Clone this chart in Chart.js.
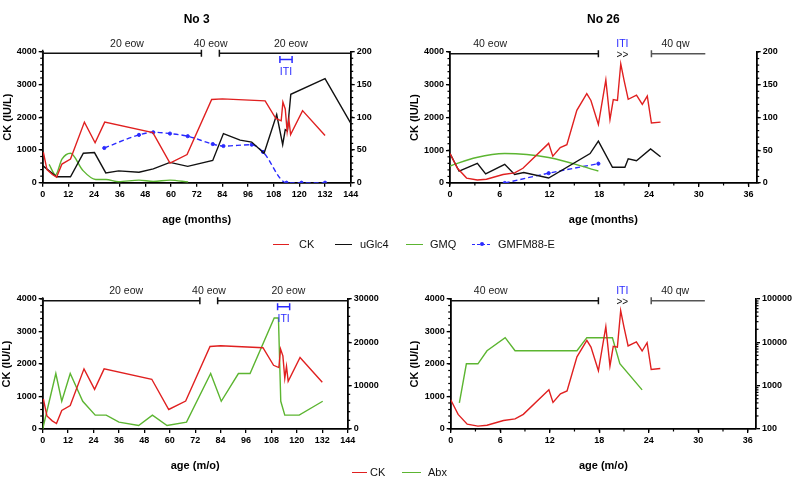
<!DOCTYPE html>
<html>
<head>
<meta charset="utf-8">
<script src="https://cdn.jsdelivr.net/npm/chart.js@4.4.1/dist/chart.umd.min.js"></script>
<style>
  html, body { margin: 0; padding: 0; background: #fff; }
  body { width: 794px; height: 479px; position: relative; overflow: hidden; font-family: "Liberation Sans", Arial, sans-serif; }
  .panel { position: absolute; }
  .item { position: absolute; font-size: 11px; line-height: 12px; color: #111; white-space: nowrap; }
  .sw { position: absolute; top: 6px; height: 0; border-top: 1.5px solid; }
  .dot { position: absolute; top: 4px; width: 4px; height: 4px; border-radius: 2px; background: #2a2aff; }
</style>
</head>
<body>
<div class="panel" style="left:0;top:0"><canvas id="c1" width="400" height="232"></canvas></div>
<div class="panel" style="left:400px;top:0"><canvas id="c2" width="394" height="232"></canvas></div>
<div class="panel" style="left:0;top:240px"><canvas id="c3" width="400" height="239"></canvas></div>
<div class="panel" style="left:400px;top:240px"><canvas id="c4" width="394" height="239"></canvas></div>

<!-- legend, top -->
<div class="item" style="left:273px;top:238px"><span class="sw" style="left:0;width:16px;border-color:#e02020"></span><span style="margin-left:26px">CK</span></div>
<div class="item" style="left:335px;top:238px"><span class="sw" style="left:0;width:17px;border-color:#111"></span><span style="margin-left:25px">uGlc4</span></div>
<div class="item" style="left:406px;top:238px"><span class="sw" style="left:0;width:17px;border-color:#5cb531"></span><span style="margin-left:24px">GMQ</span></div>
<div class="item" style="left:472px;top:238px"><span class="sw" style="left:0;width:18px;border-top:1.5px dashed #2a2aff"></span><span class="dot" style="left:8px"></span><span style="margin-left:26px">GMFM88-E</span></div>
<!-- legend, bottom -->
<div class="item" style="left:352px;top:466px"><span class="sw" style="left:0;width:15px;border-color:#e02020"></span><span style="margin-left:18px">CK</span></div>
<div class="item" style="left:402px;top:466px"><span class="sw" style="left:0;width:19px;border-color:#5cb531"></span><span style="margin-left:26px">Abx</span></div>

<script>
const FONT = '"Liberation Sans", Arial, sans-serif';

// ---- No 3 (age in months) ----
const ckAge3 = [0.3, 2, 4.5, 6.5, 9, 13, 19.5, 24.5, 29, 51.5, 59.5, 67.5, 79, 84, 104, 109, 111.5, 112.3, 113.4, 114.3, 115.1, 115.9, 121.5, 132];
const ck3 = [930, 400, 250, 170, 570, 720, 1850, 1220, 1850, 1530, 600, 860, 2540, 2560, 2500, 1960, 1890, 2460, 2250, 1560, 1930, 1470, 2200, 1440];
const ugAge3 = [0, 6.5, 13, 19, 24.2, 29.5, 35.5, 45, 51.7, 59.5, 67.8, 79.5, 84.5, 92.3, 97.7, 103.5, 109.4, 112.2, 113.4, 114.4, 116, 132, 144];
const ug3 = [26, 9, 9, 45, 46, 15, 18, 16, 21, 31, 25, 34, 75, 65, 62, 45, 104, 58, 81, 79, 135, 159, 91];
const gmqAge3 = [3, 6, 9, 13, 18.7, 24.8, 29.6, 35.5, 45, 51.7, 59.5, 68];
const gmq3 = [28, 12, 36, 45, 19, 5, 5, 1.5, 4, 2, 4, 1];
const gmfmAge3 = [28.8, 45, 51.7, 59.5, 67.8, 79.5, 84.5, 97.7, 103, 114, 121, 132];
const gmfm3 = [53, 73, 77, 75, 71, 59, 56, 58, 47, 0, 0, 0];
const abxAge3 = [0, 6.2, 9, 13, 18.9, 24.8, 30, 36, 45.3, 51.8, 58.7, 67.9, 79.3, 84.3, 92.4, 97.9, 109.3, 111.3, 112.4, 114.3, 121.1, 132.2];
const abx3 = [0, 12800, 6400, 12800, 6400, 3200, 3200, 1600, 800, 3200, 800, 1600, 12800, 6400, 12800, 12800, 25600, 25600, 6400, 3200, 3200, 6400];

// ---- No 26 ----
const ckAge26 = [0, 0.9, 2, 3.3, 4.4, 6.4, 7.8, 8.8, 11.9, 12.4, 13.3, 14.1, 15.3, 16.5, 17, 17.9, 18.8, 19.3, 19.7, 20.2, 20.6, 21, 21.5, 22.5, 23.2, 23.8, 24.3, 25.4];
const ck26 = [900, 450, 150, 90, 115, 260, 310, 450, 1210, 820, 1080, 1170, 2220, 2730, 2520, 1790, 3150, 1940, 2545, 2520, 3640, 3135, 2555, 2680, 2400, 2655, 1830, 1860];
const ugAge26 = [0, 1.1, 3.3, 4.3, 6.6, 7.8, 8.9, 11.9, 16.9, 17.9, 19.6, 21.1, 21.5, 22.5, 24.2, 25.4];
const ug26 = [45, 18, 30, 14, 28.5, 13, 16, 7.6, 45, 64, 24, 24, 37, 34, 52, 40];
const gmqAge26 = [0, 3.2, 6.6, 11.9, 17.9];
const gmq26 = [26, 39, 45, 39, 18.3];
const gmfmAge26 = [6.6, 11.9, 17.9];
const gmfm26 = [0, 15, 29.5];
const abxAge26 = [1.05, 1.9, 3.3, 4.4, 6.6, 7.8, 15.3, 16.5, 19.6, 20.5, 23.2];
const abx26 = [400, 3200, 3200, 6400, 12800, 6400, 6400, 12800, 12800, 3200, 800];

// axis ticks
const xTicks3 = [0, 12, 24, 36, 48, 60, 72, 84, 96, 108, 120, 132, 144];
const xTicks26 = [0, 6, 12, 18, 24, 30, 36];
const ckTicks = [0, 1000, 2000, 3000, 4000];
const rightTicks = [0, 50, 100, 150, 200];
const abxTicks3 = [0, 10000, 20000, 30000];
const abxTicks26 = [100, 1000, 10000, 100000];

// dosing bars / ITI (ages)
const dose3 = [
  { from: 0, to: 74.2, caps: [true, true] },
  { from: 82.6, to: 144, caps: [true, false] }
];
const doseLabels3 = [['20 eow', 39.4], ['40 eow', 78.5], ['20 eow', 116]];
const iti3 = [110.9, 116.6];
const dose26 = [
  { from: 0, to: 17.9, caps: [false, true] },
  { from: 24.3, to: 30.8, caps: [true, false], color: '#555' }
];
const doseLabels26 = [['40 eow', 4.85], ['40 qw', 27.2]];

const pts = (xs, ys) => xs.map((x, i) => ({ x, y: ys[i] }));

const RED = '#e02020', BLACK = '#111', GREEN = '#5cb531', BLUE = '#2a2aff';

const marks = {
  id: 'marks',
  afterDraw(chart, args, o) {
    const { ctx, chartArea: a, scales } = chart;
    const x = scales.x, y = scales.y;
    ctx.save();
    // minor ticks
    ctx.strokeStyle = '#000';
    ctx.lineWidth = 1.2;
    const minor = o.minor || {};
    Object.keys(minor).forEach(id => {
      const s = scales[id];
      let vals = [];
      if (minor[id] === 'log') {
        for (let d = s.min; d < s.max; d *= 10) for (let k = 2; k <= 9; k++) vals.push(k * d);
      } else {
        for (let v = s.min; v <= s.max + 1e-9; v += minor[id]) vals.push(v);
      }
      vals.forEach(v => {
        const p = s.getPixelForValue(v);
        ctx.beginPath();
        if (id === 'x') { if (v > 36.01 && s.max < 40) return; ctx.moveTo(p, a.bottom); ctx.lineTo(p, a.bottom + 2.5); }
        else if (s.position === 'left') { ctx.moveTo(a.left, p); ctx.lineTo(a.left - 2.5, p); }
        else { ctx.moveTo(a.right, p); ctx.lineTo(a.right + 2.5, p); }
        ctx.stroke();
      });
    });
    ctx.textAlign = 'center';
    ctx.textBaseline = 'middle';
    if (o.title) {
      ctx.fillStyle = '#000';
      ctx.font = 'bold 12px ' + FONT;
      ctx.fillText(o.title, (a.left + a.right) / 2, 20);
    }
    // dosing bars
    const by = y.getPixelForValue(3950);
    ctx.lineWidth = 1.5;
    o.bars.forEach(b => {
      const x0 = x.getPixelForValue(b.from), x1 = x.getPixelForValue(b.to);
      ctx.strokeStyle = b.color || '#111';
      ctx.beginPath();
      ctx.moveTo(x0, by); ctx.lineTo(x1, by);
      if (b.caps[0]) { ctx.moveTo(x0, by - 3.5); ctx.lineTo(x0, by + 3.5); }
      if (b.caps[1]) { ctx.moveTo(x1, by - 3.5); ctx.lineTo(x1, by + 3.5); }
      ctx.stroke();
    });
    ctx.font = '10.5px ' + FONT;
    ctx.fillStyle = '#222';
    o.labels.forEach(([t, v]) => ctx.fillText(t, x.getPixelForValue(v), by - 9.5));
    if (o.iti) {
      const i0 = x.getPixelForValue(o.iti[0]), i1 = x.getPixelForValue(o.iti[1]);
      const iy = y.getPixelForValue(3760);
      ctx.strokeStyle = BLUE;
      ctx.beginPath();
      ctx.moveTo(i0, iy); ctx.lineTo(i1, iy);
      ctx.moveTo(i0, iy - 3.5); ctx.lineTo(i0, iy + 3.5);
      ctx.moveTo(i1, iy - 3.5); ctx.lineTo(i1, iy + 3.5);
      ctx.stroke();
      ctx.fillStyle = BLUE;
      ctx.fillText('ITI', (i0 + i1) / 2, y.getPixelForValue(3380));
    }
    if (o.itiText) {
      const px = x.getPixelForValue(o.itiText);
      ctx.fillStyle = BLUE;
      ctx.fillText('ITI', px, by - 9.5);
      ctx.fillStyle = '#111';
      ctx.font = '10px ' + FONT;
      ctx.fillText('>>', px, by + 2);
    }
    ctx.restore();
  }
};

const tickFont = { family: FONT, size: 9, weight: 'bold' };
const titleFont = { family: FONT, size: 11, weight: 'bold' };
const axisGrid = { display: true, drawOnChartArea: false, drawTicks: true, tickLength: 4, color: '#000', lineWidth: 1.3 };
const axisBorder = { display: true, color: '#000', width: 1.8 };
const fixed = list => s => { s.ticks = list.map(v => ({ value: v })); };

function panel(id, g) {
  return new Chart(document.getElementById(id), {
    type: 'line',
    data: { datasets: g.datasets },
    options: {
      responsive: false,
      animation: false,
      layout: { padding: { top: g.top, left: 0, right: 0, bottom: 0 } },
      elements: { point: { radius: 0 }, line: { borderWidth: 1.4, tension: 0 } },
      plugins: { legend: { display: false }, tooltip: { enabled: false }, marks: g.marks },
      scales: {
        x: {
          type: 'linear', min: 0, max: g.xMax,
          afterBuildTicks: fixed(g.xTicks),
          ticks: { font: tickFont, color: '#000', padding: 2, maxRotation: 0, autoSkip: false, callback: v => String(v) },
          grid: axisGrid, border: axisBorder,
          title: { display: true, text: g.xTitle, font: titleFont, color: '#000', padding: { top: 0, bottom: g.xTitlePad } },
          afterFit: s => { s.height = g.xH; }
        },
        y: {
          position: 'left', min: 0, max: 4000,
          afterBuildTicks: fixed(ckTicks),
          ticks: { font: tickFont, color: '#000', padding: 2, callback: v => String(v) },
          grid: axisGrid, border: axisBorder,
          title: { display: true, text: 'CK (IU/L)', font: titleFont, color: '#000', padding: { top: g.yTitlePad, bottom: 0 } },
          afterFit: s => { s.width = g.yW; }
        },
        y1: {
          type: g.rightType || 'linear', position: 'right', min: g.rMin, max: g.rMax,
          afterBuildTicks: fixed(g.rTicks),
          ticks: { font: tickFont, color: '#000', padding: 2, callback: v => String(v) },
          grid: axisGrid, border: axisBorder,
          afterFit: s => { s.width = g.y1W; }
        }
      }
    },
    plugins: [marks]
  });
}

const line = (data, color, axis, extra) => Object.assign({ data, borderColor: color, backgroundColor: color, yAxisID: axis, fill: false }, extra || {});
const gmfmStyle = { borderDash: [5, 3], pointRadius: 1.6, cubicInterpolationMode: 'monotone' };
const gmqStyle = { cubicInterpolationMode: 'monotone' };

panel('c1', {
  top: 51.7, yW: 42.7, y1W: 49.3, xH: 49.3, xTitlePad: 5.4, yTitlePad: 0.9,
  xMax: 144, xTicks: xTicks3, xTitle: 'age (months)',
  rMin: 0, rMax: 200, rTicks: rightTicks,
  datasets: [
    line(pts(ckAge3, ck3), RED, 'y'),
    line(pts(ugAge3, ug3), BLACK, 'y1'),
    line(pts(gmqAge3, gmq3), GREEN, 'y1', gmqStyle),
    line(pts(gmfmAge3, gmfm3), BLUE, 'y1', gmfmStyle)
  ],
  marks: { title: 'No 3', bars: dose3, labels: doseLabels3, iti: iti3, minor: { y: 200, y1: 10 } }
});

panel('c2', {
  top: 52, yW: 50, y1W: 37.3, xH: 49, xTitlePad: 5.4, yTitlePad: 8.4,
  xMax: 37, xTicks: xTicks26, xTitle: 'age (months)',
  rMin: 0, rMax: 200, rTicks: rightTicks,
  datasets: [
    line(pts(ckAge26, ck26), RED, 'y'),
    line(pts(ugAge26, ug26), BLACK, 'y1'),
    line(pts(gmqAge26, gmq26), GREEN, 'y1', gmqStyle),
    line(pts(gmfmAge26, gmfm26), BLUE, 'y1', gmfmStyle)
  ],
  marks: { title: 'No 26', bars: dose26, labels: doseLabels26, itiText: 20.8, minor: { x: 3, y: 200, y1: 10 } }
});

panel('c3', {
  top: 59, yW: 42.7, y1W: 52.3, xH: 50, xTitlePad: 6.4, yTitlePad: 0.6,
  xMax: 144, xTicks: xTicks3, xTitle: 'age (m/o)',
  rMin: 0, rMax: 30000, rTicks: abxTicks3,
  datasets: [
    line(pts(ckAge3, ck3), RED, 'y'),
    line(pts(abxAge3, abx3), GREEN, 'y1')
  ],
  marks: { bars: dose3, labels: doseLabels3, iti: iti3, minor: { y: 200, y1: 2000 } }
});

panel('c4', {
  top: 59, yW: 50.7, y1W: 38, xH: 50, xTitlePad: 6.4, yTitlePad: 8.4,
  xMax: 37, xTicks: xTicks26, xTitle: 'age (m/o)',
  rightType: 'logarithmic', rMin: 100, rMax: 100000, rTicks: abxTicks26,
  datasets: [
    line(pts(ckAge26, ck26), RED, 'y'),
    line(pts(abxAge26, abx26), GREEN, 'y1')
  ],
  marks: { bars: dose26, labels: doseLabels26, itiText: 20.8, minor: { x: 3, y: 200, y1: 'log' } }
});
</script>
</body>
</html>
